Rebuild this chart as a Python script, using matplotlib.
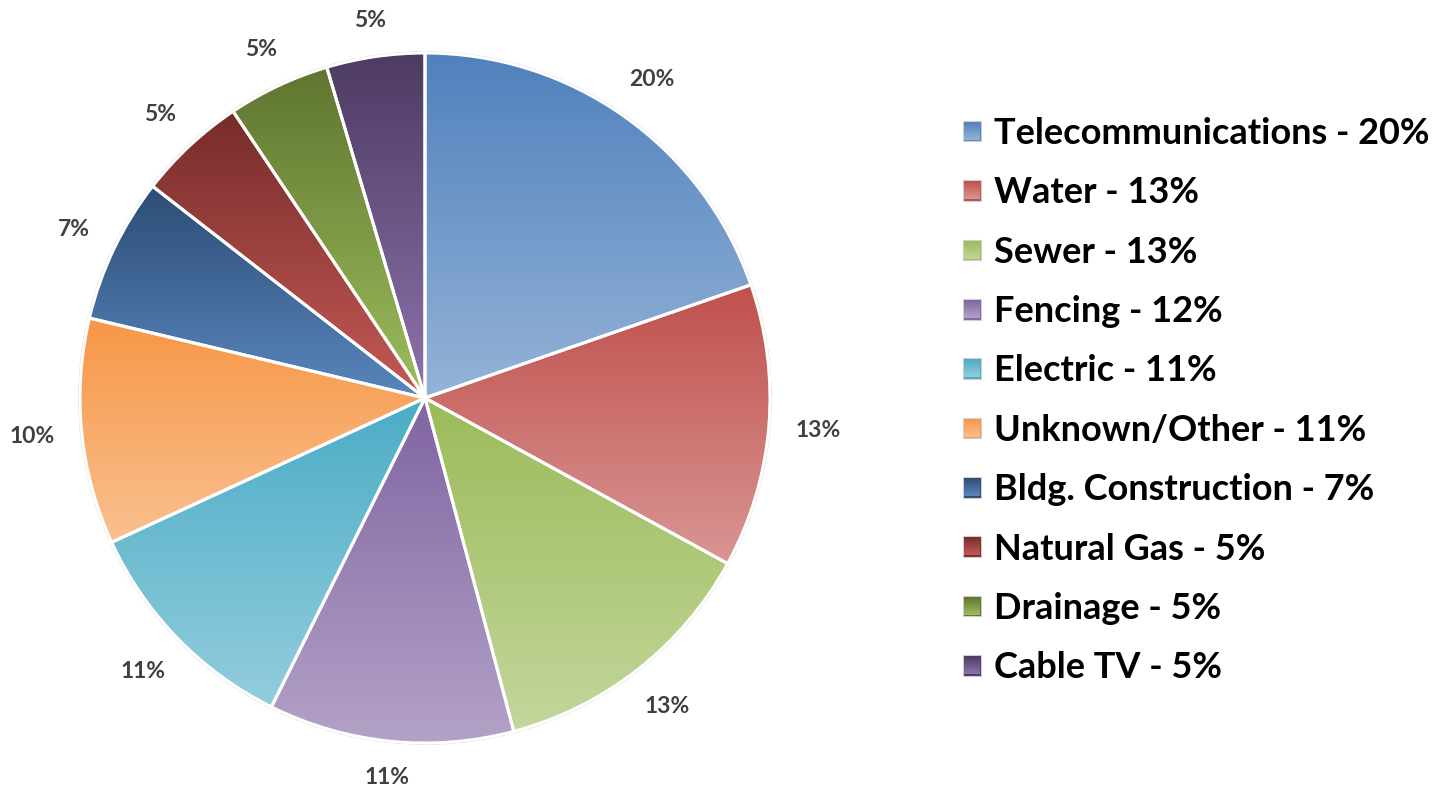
import numpy as np
import matplotlib
matplotlib.use("Agg")
import matplotlib.pyplot as plt
from matplotlib.colors import LinearSegmentedColormap
from matplotlib.patches import Rectangle, Circle

plt.rcParams['font.family'] = ['Lato', 'DejaVu Sans']

# share of incidents per utility type
categories = ["Telecommunications", "Water", "Sewer", "Fencing", "Electric",
              "Unknown/Other", "Bldg. Construction", "Natural Gas", "Drainage", "Cable TV"]
shares = [19.7, 13.3, 12.9, 11.5, 10.8, 10.6, 6.8, 5.1, 4.8, 4.6]
slice_labels = ["20%", "13%", "13%", "11%", "11%", "10%", "7%", "5%", "5%", "5%"]
legend_pcts = ["20%", "13%", "13%", "12%", "11%", "11%", "7%", "5%", "5%", "5%"]

# gradient colours: top of slice -> bottom of slice
top_colors = ["#4F81BD", "#C0504D", "#9BBB59", "#8064A2", "#4BACC6",
              "#F79646", "#2C4D75", "#772C2A", "#5F7530", "#4D3B62"]
bottom_colors = ["#95B3D7", "#D99694", "#C3D69B", "#B3A2C7", "#93CDDD",
                 "#FAC090", "#5A86BE", "#C45A57", "#9DBE5C", "#8E73AD"]

W, H = 1450, 791
fig = plt.figure(figsize=(W / 100, H / 100), dpi=100)
ax = fig.add_axes([0, 0, 1, 1])

cx, cy, R = 425, H - 398, 345
grad = np.linspace(0, 1, 256).reshape(-1, 1)

wedges, _ = ax.pie(shares, startangle=90, counterclock=False, radius=R,
                   center=(cx, cy), frame=True,
                   wedgeprops=dict(facecolor='none', edgecolor='white', linewidth=2.2, zorder=5))
ax.set_xlim(0, W)
ax.set_ylim(0, H)
ax.set_aspect('equal')
ax.axis('off')

texts = []
for w, c0, c1, lab in zip(wedges, top_colors, bottom_colors, slice_labels):
    ext = w.get_path().get_extents()
    cmap = LinearSegmentedColormap.from_list('g', [c0, c1])
    im = ax.imshow(grad, cmap=cmap, aspect='auto', origin='upper',
                   extent=[ext.x0, ext.x1, ext.y0, ext.y1], zorder=2,
                   interpolation='bilinear')
    im.set_clip_path(w)
    t = ax.text(cx, cy, lab, ha='center', va='center', fontsize=16.5,
                fontweight='bold', color='#404040')
    texts.append(t)

ax.add_patch(Circle((cx, cy), R + 1.2, facecolor='none', edgecolor='#cfcfcf', lw=0.8, zorder=4))
ax.set_xlim(0, W)
ax.set_ylim(0, H)

handles = [Rectangle((0, 0), 1, 1, facecolor=c0, edgecolor='#d0d0d0', lw=0.8)
           for c0 in top_colors]
names = [f"{c} - {p}" for c, p in zip(categories, legend_pcts)]
leg = ax.legend(handles, names, loc='upper left', bbox_to_anchor=(963 / W, 1 - 117 / H),
                frameon=False, handlelength=0.5, handleheight=0.5,
                handletextpad=0.36, labelspacing=0.73, borderpad=0, borderaxespad=0,
                prop=dict(weight='bold', size=26))

fig.canvas.draw()

# labels sit outside the rim, a fixed gap from the edge of their box
gap = 26
for w, t in zip(wedges, texts):
    bb = t.get_window_extent().transformed(ax.transData.inverted())
    hw, hh = bb.width / 2, bb.height / 2 * 0.8
    mid = np.deg2rad((w.theta1 + w.theta2) / 2)
    r = R + gap + abs(np.cos(mid)) * hw + abs(np.sin(mid)) * hh
    t.set_position((cx + r * np.cos(mid), cy + r * np.sin(mid)))

# gradient fill for legend keys
for hp, c0, c1 in zip(leg.legend_handles, top_colors, bottom_colors):
    bb = hp.get_window_extent().transformed(ax.transData.inverted())
    cmap = LinearSegmentedColormap.from_list('g', [c0, c1])
    ax.imshow(grad, cmap=cmap, aspect='auto', origin='upper',
              extent=[bb.x0 + 1.5, bb.x1 - 1.5, bb.y0 + 1.5, bb.y1 - 1.5], zorder=10)
ax.set_xlim(0, W)
ax.set_ylim(0, H)

fig.savefig("out.png", dpi=100)
